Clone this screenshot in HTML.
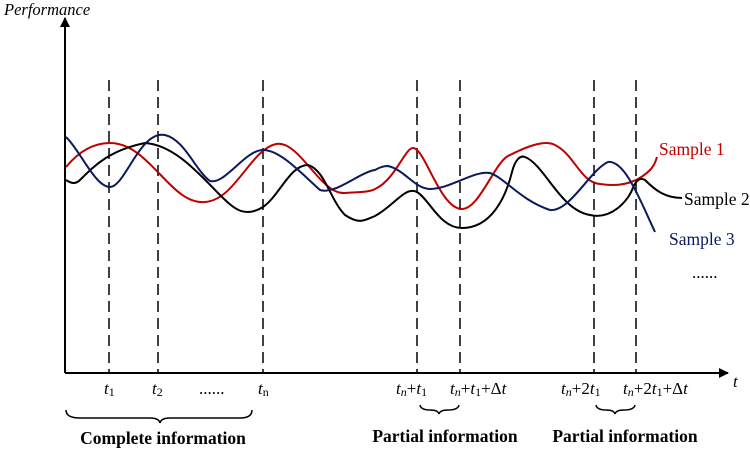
<!DOCTYPE html>
<html><head><style>body{margin:0;background:#fff}svg{display:block}</style></head><body>
<svg width="750" height="449" viewBox="0 0 750 449" xmlns="http://www.w3.org/2000/svg" font-family="Liberation Serif, serif">
<defs><marker id="a" markerWidth="10" markerHeight="10" refX="9" refY="5" orient="auto" markerUnits="userSpaceOnUse"><path d="M0,0 L10,5 L0,10 z" fill="#000"/></marker></defs>
<text x="4" y="15" font-size="16.5" font-style="italic">Performance</text>
<line x1="65" y1="373" x2="65" y2="18" stroke="#000" stroke-width="2" marker-end="url(#a)"/>
<line x1="65" y1="373" x2="728" y2="373" stroke="#000" stroke-width="2" marker-end="url(#a)"/>
<g stroke="#000" stroke-width="1.5" stroke-dasharray="11,6">
<line x1="109" y1="80" x2="109" y2="373"/><line x1="158" y1="80" x2="158" y2="373"/><line x1="263" y1="80" x2="263" y2="373"/>
<line x1="417" y1="80" x2="417" y2="373"/><line x1="460" y1="80" x2="460" y2="373"/><line x1="594" y1="80" x2="594" y2="373"/><line x1="636" y1="80" x2="636" y2="373"/></g>
<g fill="none" stroke-width="2">
<path stroke="#c00000" d="M66,167 C80,150 95,143 110,143 C150,143 170,205 205,202 C235,200 250,150 276,144 C300,140 320,195 345,193 C360,192 370,192 375,189 C395,180 405,148 413,148 C425,148 440,209 462,209 C480,209 495,160 510,155 C530,145 545,140 555,145 C575,155 580,182 600,184 C625,188 640,180 650,170 C655,165 656,160 657,157"/>
<path stroke="#000" d="M66,180 C72,184 76,184 80,180 C95,165 110,150 145,143 C175,145 200,175 220,195 C235,210 245,218 263,207 C280,195 290,165 308,165 C325,170 330,200 345,215 C360,225 365,220 375,216 C395,205 405,186 417,192 C430,200 440,228 462,228 C490,228 505,200 512,172 C515,160 520,155 525,157 C545,165 560,210 590,215 C612,220 628,200 632,190 C636,180 640,177 645,180 C655,190 665,198 682,198"/>
<path stroke="#0a1a5c" d="M66,137 C80,150 95,187 110,187 C125,187 140,130 165,135 C185,140 195,170 210,181 C225,185 245,150 263,150 C280,150 300,172 320,190 C335,195 360,172 375,170 C380,167 384,166 388,166 C405,170 415,189 430,189 C450,189 475,170 490,173 C505,178 520,200 550,210 C570,212 590,170 608,162 C625,160 640,200 655,232"/>
</g>
<text x="659" y="155" font-size="17.5" fill="#c00000">Sample 1</text>
<text x="684" y="205" font-size="17.5">Sample 2</text>
<text x="669" y="245" font-size="17.5" fill="#0a1a5c">Sample 3</text>
<text x="692" y="278" font-size="17">......</text>
<text x="733" y="387" font-size="17" font-style="italic">t</text>
<g font-size="17">
<text x="104" y="394"><tspan font-style="italic">t</tspan><tspan font-size="12" dy="2">1</tspan></text>
<text x="152" y="394"><tspan font-style="italic">t</tspan><tspan font-size="12" dy="2">2</tspan></text>
<text x="199" y="394">......</text>
<text x="258" y="394"><tspan font-style="italic">t</tspan><tspan font-size="12" dy="2">n</tspan></text>
<text x="396" y="394"><tspan font-style="italic">t<tspan font-size="12" dy="2">n</tspan></tspan><tspan dy="-2">+</tspan><tspan font-style="italic">t</tspan><tspan font-size="12" dy="2">1</tspan></text>
<text x="450" y="394"><tspan font-style="italic">t<tspan font-size="12" dy="2">n</tspan></tspan><tspan dy="-2">+</tspan><tspan font-style="italic">t</tspan><tspan font-size="12" dy="2">1</tspan><tspan dy="-2">+Δ</tspan><tspan font-style="italic">t</tspan></text>
<text x="561" y="394"><tspan font-style="italic">t<tspan font-size="12" dy="2">n</tspan></tspan><tspan dy="-2">+2</tspan><tspan font-style="italic">t</tspan><tspan font-size="12" dy="2">1</tspan></text>
<text x="623" y="394"><tspan font-style="italic">t<tspan font-size="12" dy="2">n</tspan></tspan><tspan dy="-2">+2</tspan><tspan font-style="italic">t</tspan><tspan font-size="12" dy="2">1</tspan><tspan dy="-2">+Δ</tspan><tspan font-style="italic">t</tspan></text>
</g>
<g fill="none" stroke="#000" stroke-width="1.5">
<path d="M66,410 Q66,418 80,418 L150,418 Q159,418 160,423 Q161,418 170,418 L240,418 Q252,418 252,410"/>
<path d="M420,405 Q421,410 430,410 Q438,410 439,414 Q440,410 448,410 Q458,410 459,405"/>
<path d="M596,405 Q597,410 606,410 Q614,410 615,414 Q616,410 624,410 Q634,410 635,405"/>
</g>
<g font-size="17.5" font-weight="bold" text-anchor="middle">
<text x="163" y="444">Complete information</text>
<text x="445" y="442">Partial information</text>
<text x="625" y="442">Partial information</text>
</g>
</svg>
</body></html>
